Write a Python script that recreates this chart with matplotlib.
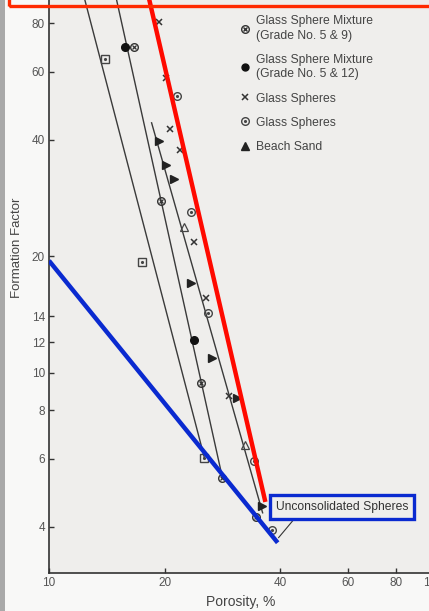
import matplotlib
matplotlib.use("Agg")
import matplotlib.pyplot as plt
from matplotlib.lines import Line2D
from matplotlib.patches import Rectangle

plt.rcParams['font.family'] = ['Liberation Sans', 'DejaVu Sans']

# ---- data (porosity %, formation factor) ----
mix59_x = [16.6, 19.6, 24.9, 28.3, 34.5]
mix59_y = [69.6, 27.8, 9.42, 5.35, 4.25]
mix512_x = [15.8, 23.8]
mix512_y = [69.6, 12.2]
glass_x_x = [19.3, 20.2, 20.6, 21.9, 23.9, 25.6, 29.5]
glass_x_y = [80.7, 57.8, 42.7, 37.7, 21.8, 15.6, 8.7]
glass_o_x = [21.6, 23.5, 25.9, 34.1, 38.0]
glass_o_y = [52.0, 26.1, 14.3, 5.92, 3.93]
sand_x = [19.3, 20.2, 21.2, 23.5, 26.6, 30.8, 35.8]
sand_y = [39.8, 34.5, 31.7, 17.1, 10.9, 8.62, 4.53]
sand_open_x = [22.5, 32.3]
sand_open_y = [23.8, 6.52]
square_x = [14.0, 17.5, 25.4]
square_y = [64.8, 19.3, 6.03]

# fitted lines (endpoints)
fit1_x = [12.4, 25.4]; fit1_y = [92.0, 6.03]
fit2_x = [15.0, 28.3]; fit2_y = [92.0, 5.35]
fit3_x = [18.5, 36.0]; fit3_y = [44.3, 4.35]
red_x = [17.9, 36.6]; red_y = [100.0, 4.64]
blue_x = [10.0, 39.4]; blue_y = [19.5, 3.64]

xticks = [10, 20, 40, 60, 80, 100]
yticks = [4, 6, 8, 10, 12, 14, 20, 40, 60, 80]

W, H = 429, 611
fig = plt.figure(figsize=(W / 100, H / 100), dpi=100)
fig.patch.set_facecolor('#f8f8f7')

ax = fig.add_axes([49 / W, (H - 573) / H, 384 / W, 587 / H])
ax.set_facecolor('#efeeec')
ax.set_xscale('log')
ax.set_yscale('log')
ax.set_xlim(10, 100)
ax.set_ylim(3.04, 100)
for s in ['top', 'right']:
    ax.spines[s].set_visible(False)
for s in ['left', 'bottom']:
    ax.spines[s].set_color('#333333')
    ax.spines[s].set_linewidth(1.2)

ax.set_xticks(xticks)
ax.set_xticklabels([str(t) for t in xticks])
ax.set_yticks(yticks)
ax.set_yticklabels([str(t) for t in yticks])
ax.minorticks_off()
ax.tick_params(direction='in', length=3.5, width=1, color='#333333',
               labelsize=8.5, labelcolor='#555555', pad=3)

ax.set_xlabel('Porosity, %', fontsize=10, color='#444444')
ax.xaxis.set_label_coords(0.5, -22 / 587)
ax.set_ylabel('Formation Factor', fontsize=9.5, color='#444444')
ax.yaxis.set_label_coords(-26 / 384, (573 - 248) / 587)

lc = '#3a3a3a'
for xs, ys in [(fit1_x, fit1_y), (fit2_x, fit2_y), (fit3_x, fit3_y)]:
    ax.plot(xs, ys, color=lc, lw=1.0, zorder=2)

mk = dict(linestyle='none', zorder=4)
ax.plot(mix59_x, mix59_y, marker='o', ms=5.5, mfc='none', mec='#333333', mew=1.0, **mk)
ax.plot(mix59_x, mix59_y, marker='x', ms=3.2, mec='#333333', mew=0.9, **mk)
ax.plot(mix512_x, mix512_y, marker='o', ms=5.5, mfc='#111111', mec='#111111', **mk)
ax.plot(glass_x_x, glass_x_y, marker='x', ms=4.5, mec='#333333', mew=1.1, **mk)
ax.plot(glass_o_x, glass_o_y, marker='o', ms=5.5, mfc='none', mec='#444444', mew=1.0, **mk)
ax.plot(glass_o_x, glass_o_y, marker='.', ms=2.5, mfc='#444444', mec='#444444', **mk)
ax.plot(sand_x, sand_y, marker='>', ms=5.5, mfc='#222222', mec='#222222', **mk)
ax.plot(sand_open_x, sand_open_y, marker='^', ms=5.5, mfc='none', mec='#444444', mew=0.9, **mk)
ax.plot(square_x, square_y, marker='s', ms=5.5, mfc='none', mec='#444444', mew=1.0, **mk)
ax.plot(square_x, square_y, marker='.', ms=2.5, mfc='#444444', mec='#444444', **mk)

# highlighted lines
ax.plot(red_x, red_y, color='#ff0a00', lw=3.2, solid_capstyle='butt', zorder=5)
ax.plot(blue_x, blue_y, color='#0a2ad0', lw=3.2, solid_capstyle='butt', zorder=5)

# annotation
ax.annotate('Unconsolidated Spheres', xy=(39.6, 3.75), xytext=(57.9, 4.51),
            fontsize=8.7, color='#333333', ha='center', va='center',
            bbox=dict(boxstyle='square,pad=0.5', fc='none', ec='#0a2ad0', lw=2.4),
            arrowprops=dict(arrowstyle='-', color='#333333', lw=0.8,
                            shrinkA=0, shrinkB=0, relpos=(0.18, 0.0)),
            zorder=6)

# legend
h1 = (Line2D([], [], ls='none', marker='o', ms=5.5, mfc='none', mec='#333333'),
      Line2D([], [], ls='none', marker='x', ms=3.2, mec='#333333'))
h2 = Line2D([], [], ls='none', marker='o', ms=5, mfc='#111111', mec='#111111')
h3 = Line2D([], [], ls='none', marker='x', ms=4.5, mec='#333333', mew=1.1)
h4 = (Line2D([], [], ls='none', marker='o', ms=5.5, mfc='none', mec='#444444'),
      Line2D([], [], ls='none', marker='.', ms=2.5, mfc='#444444', mec='#444444'))
h5 = Line2D([], [], ls='none', marker='^', ms=5.5, mfc='#222222', mec='#222222')
leg = ax.legend([h1, h2, h3, h4, h5],
                ['Glass Sphere Mixture\n(Grade No. 5 & 9)',
                 'Glass Sphere Mixture\n(Grade No. 5 & 12)',
                 'Glass Spheres', 'Glass Spheres', 'Beach Sand'],
                loc='upper left', bbox_to_anchor=(240 / W, 1 - 15 / H),
                bbox_transform=fig.transFigure, frameon=False,
                fontsize=8.7, handlelength=0.8, handletextpad=0.5,
                labelspacing=1.0, borderpad=0, borderaxespad=0)
for t in leg.get_texts():
    t.set_color('#444444')
    t.set_linespacing(1.3)

# screenshot decorations
fig.patches.append(Rectangle((0, 0), 5 / W, 1, transform=fig.transFigure,
                             facecolor='#a9a9a9', edgecolor='none', zorder=0))
fig.patches.append(Rectangle((9 / W, 1 - 6 / H), 1.2, 0.2, transform=fig.transFigure,
                             facecolor='none', edgecolor='#ff2a00', lw=2.4, zorder=10))

fig.savefig('out.png', dpi=100, facecolor=fig.get_facecolor())
